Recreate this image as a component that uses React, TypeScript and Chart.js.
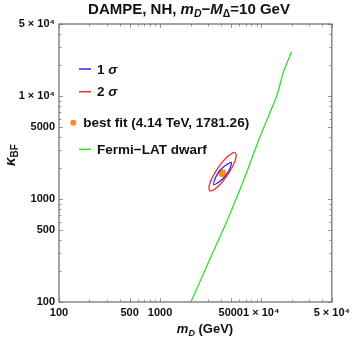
import React, { useEffect, useRef } from "react";
import { Chart, registerables } from "chart.js";

Chart.register(...registerables);

// ---------- data ----------
const fermiMass = [2020, 3190, 4645, 6750, 9790, 14250, 16560, 19950];
const fermiKappa = [100, 276, 630, 1545, 4085, 10000, 16950, 26900];

const sigma2Mass = [4634, 3948, 3409, 3101, 3050, 3260, 3715, 4361, 5050, 5551, 5644, 5283, 4634];
const sigma2Kappa = [1702, 1394, 1228, 1206, 1327, 1591, 1984, 2423, 2748, 2797, 2544, 2122, 1702];

const sigma1Mass = [4447, 3950, 3390, 3562, 3870, 4359, 5077, 4833, 4447];
const sigma1Kappa = [1672, 1498, 1381, 1631, 1871, 2088, 2263, 1917, 1672];

const bestMass = [4140];
const bestKappa = [1781.26];

const majorTicks = [100, 500, 1000, 5000, 10000, 50000];
const majorLabels = ["100", "500", "1000", "5000", "1 × 10⁴", "5 × 10⁴"];
const minorTicks = [200, 300, 400, 600, 700, 800, 900, 2000, 3000, 4000, 6000, 7000, 8000, 9000, 20000, 30000, 40000];

const axisMin = 100;
const axisMax = 50000;

// ---------- styling ----------
const FAM = '"Liberation Sans", Arial, sans-serif';
const B = (s: number) => `bold ${s}px ${FAM}`;
const BI = (s: number) => `italic bold ${s}px ${FAM}`;

const GREEN = "#33dd33";
const RED = "#f22a2a";
const BLUE = "#2a2ae8";
const ORANGE = "#ff8a14";

type Seg = { t: string; f: string; dy?: number };

function segsWidth(ctx: CanvasRenderingContext2D, segs: Seg[]) {
  let w = 0;
  for (const s of segs) {
    ctx.font = s.f;
    w += ctx.measureText(s.t).width;
  }
  return w;
}

function drawSegs(ctx: CanvasRenderingContext2D, segs: Seg[], x: number, y: number) {
  for (const s of segs) {
    ctx.font = s.f;
    ctx.fillText(s.t, x, y + (s.dy || 0));
    x += ctx.measureText(s.t).width;
  }
}

const toPts = (xs: number[], ys: number[]) => xs.map((x, i) => ({ x, y: ys[i] }));

const labelFor = (v: number) => {
  const i = majorTicks.indexOf(v);
  return i >= 0 ? majorLabels[i] : "";
};

const allTicks = [...majorTicks, ...minorTicks].sort((a, b) => a - b);

const overlay = {
  id: "overlay",
  afterDraw(chart: any) {
    const { ctx, chartArea: a, scales } = chart;
    const xs = scales.x;
    const ys = scales.y;
    ctx.save();

    // inner ticks on all four sides
    ctx.strokeStyle = "#9a9a9a";
    ctx.lineWidth = 1;
    ctx.beginPath();
    const marks: [number, number][] = [
      ...majorTicks.map((v) => [v, 4] as [number, number]),
      ...minorTicks.map((v) => [v, 2.5] as [number, number]),
    ];
    for (const [v, len] of marks) {
      const px = Math.round(xs.getPixelForValue(v)) + 0.5;
      ctx.moveTo(px, a.bottom);
      ctx.lineTo(px, a.bottom - len);
      ctx.moveTo(px, a.top);
      ctx.lineTo(px, a.top + len);
      const py = Math.round(ys.getPixelForValue(v)) + 0.5;
      ctx.moveTo(a.left, py);
      ctx.lineTo(a.left + len, py);
      ctx.moveTo(a.right, py);
      ctx.lineTo(a.right - len, py);
    }
    ctx.stroke();

    // frame
    ctx.strokeStyle = "#6a6a6a";
    ctx.lineWidth = 1.2;
    ctx.strokeRect(a.left, a.top, a.right - a.left, a.bottom - a.top);

    ctx.fillStyle = "#111";
    ctx.textBaseline = "alphabetic";
    ctx.textAlign = "left";

    // title
    const title: Seg[] = [
      { t: "DAMPE, NH, ", f: B(15) },
      { t: "m", f: BI(15) },
      { t: "D", f: BI(10.5), dy: 3 },
      { t: "−", f: B(15) },
      { t: "M", f: BI(15) },
      { t: "Δ", f: B(10.5), dy: 3 },
      { t: "=10 GeV", f: B(15) },
    ];
    const tw = segsWidth(ctx, title);
    drawSegs(ctx, title, 189 - tw / 2, 13.5);

    // x-axis title
    const xt: Seg[] = [
      { t: "m", f: BI(13) },
      { t: "D", f: BI(9), dy: 3 },
      { t: " (GeV)", f: B(13) },
    ];
    const xw = segsWidth(ctx, xt);
    drawSegs(ctx, xt, 205 - xw / 2, 333);

    // y-axis title
    const yt: Seg[] = [
      { t: "κ", f: BI(15) },
      { t: "BF", f: B(10), dy: 3 },
    ];
    const yw = segsWidth(ctx, yt);
    ctx.save();
    ctx.translate(15, 155);
    ctx.rotate(-Math.PI / 2);
    drawSegs(ctx, yt, -yw / 2, 0);
    ctx.restore();

    // legend
    const lx = a.left;
    const lineItem = (color: string, y: number) => {
      ctx.strokeStyle = color;
      ctx.lineWidth = 1.5;
      ctx.beginPath();
      ctx.moveTo(lx + 20, y);
      ctx.lineTo(lx + 32, y);
      ctx.stroke();
    };
    lineItem(BLUE, 69);
    drawSegs(ctx, [{ t: "1 ", f: B(13.5) }, { t: "σ", f: BI(13.5) }], lx + 38, 73.7);
    lineItem(RED, 91.7);
    drawSegs(ctx, [{ t: "2 ", f: B(13.5) }, { t: "σ", f: BI(13.5) }], lx + 38, 96.4);
    ctx.fillStyle = ORANGE;
    ctx.beginPath();
    ctx.arc(lx + 14.3, 122.7, 3, 0, Math.PI * 2);
    ctx.fill();
    ctx.fillStyle = "#111";
    drawSegs(ctx, [{ t: "best fit (4.14 TeV, 1781.26)", f: B(13.5) }], lx + 24.3, 127.4);
    lineItem(GREEN, 149.3);
    drawSegs(ctx, [{ t: "Fermi−LAT dwarf", f: B(13.5) }], lx + 38, 154);

    ctx.restore();
  },
};

export default function App() {
  const ref = useRef<HTMLCanvasElement | null>(null);

  useEffect(() => {
    document.body.style.margin = "0";
    const canvas = ref.current;
    if (!canvas) return;

    const tickFont = { family: FAM, weight: "bold" as const, size: 11 };

    const chart = new Chart(canvas, {
      type: "scatter",
      data: {
        datasets: [
          {
            label: "Fermi-LAT dwarf",
            data: toPts(fermiMass, fermiKappa),
            showLine: true,
            borderColor: GREEN,
            borderWidth: 1.3,
            pointRadius: 0,
            tension: 0.2,
          },
          {
            label: "2 σ",
            data: toPts(sigma2Mass, sigma2Kappa),
            showLine: true,
            borderColor: RED,
            borderWidth: 1.3,
            pointRadius: 0,
            tension: 0.4,
          },
          {
            label: "1 σ",
            data: toPts(sigma1Mass, sigma1Kappa),
            showLine: true,
            borderColor: BLUE,
            borderWidth: 1.3,
            pointRadius: 0,
            tension: 0.25,
          },
          {
            label: "best fit",
            data: toPts(bestMass, bestKappa),
            showLine: false,
            backgroundColor: ORANGE,
            borderColor: ORANGE,
            pointRadius: 3.6,
          },
        ],
      },
      options: {
        animation: false,
        responsive: false,
        devicePixelRatio: 1,
        layout: { padding: { left: 0, right: 18, top: 24, bottom: 0 } },
        plugins: {
          legend: { display: false },
          tooltip: { enabled: false },
          title: { display: false },
        },
        scales: {
          x: {
            type: "logarithmic",
            min: axisMin,
            max: axisMax,
            grid: { display: false, drawTicks: false },
            border: { display: false },
            afterBuildTicks: (scale: any) => {
              scale.ticks = allTicks.map((v) => ({ value: v }));
            },
            afterFit: (scale: any) => {
              scale.height = 38;
            },
            ticks: {
              autoSkip: false,
              maxRotation: 0,
              minRotation: 0,
              padding: 4,
              color: "#111",
              font: tickFont,
              callback: (v: any) => labelFor(Number(v)),
            },
          },
          y: {
            type: "logarithmic",
            min: axisMin,
            max: axisMax,
            grid: { display: false, drawTicks: false },
            border: { display: false },
            afterBuildTicks: (scale: any) => {
              scale.ticks = allTicks.map((v) => ({ value: v }));
            },
            afterFit: (scale: any) => {
              scale.width = 59;
            },
            ticks: {
              autoSkip: false,
              padding: 4,
              color: "#111",
              font: tickFont,
              callback: (v: any) => labelFor(Number(v)),
            },
          },
        },
      },
      plugins: [overlay],
    });

    return () => chart.destroy();
  }, []);

  return (
    <canvas
      ref={ref}
      width={354}
      height={340}
      style={{ display: "block", width: 354, height: 340 }}
    />
  );
}
